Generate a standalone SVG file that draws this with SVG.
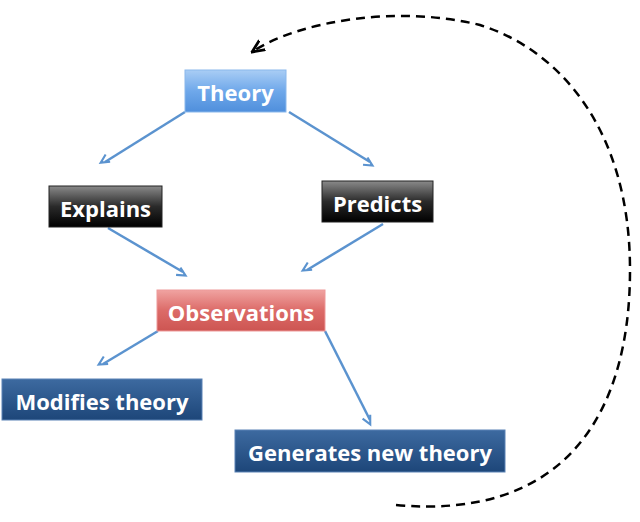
<svg xmlns="http://www.w3.org/2000/svg" width="640" height="522" viewBox="0 0 640 522">
<style>
text{font-family:"Open Sans","Liberation Sans",sans-serif;font-weight:bold;font-size:22px;fill:#fff;text-anchor:middle;dominant-baseline:central}
.c{stroke:#5b93cf;stroke-width:2.5;fill:none;marker-end:url(#a)}
</style>
<defs>
<marker id="a" viewBox="0 0 10 10" refX="9" refY="5" markerWidth="5" markerHeight="5" orient="auto" markerUnits="userSpaceOnUse" overflow="visible"><path d="M0,0 L10,5 L0,10" fill="none" stroke="#5b93cf" stroke-width="2.5" transform="scale(1.7)"/></marker>
<marker id="d" viewBox="0 0 10 10" refX="9" refY="5" markerWidth="14" markerHeight="14" orient="auto" markerUnits="userSpaceOnUse"><path d="M0,1 L9,5 L0,9" fill="none" stroke="#000" stroke-width="2"/></marker>
<linearGradient id="gb" x1="0" y1="0" x2="0" y2="1"><stop offset="0" stop-color="#a9cdf5"/><stop offset="0.5" stop-color="#6fa8ea"/><stop offset="1" stop-color="#4f8fdc"/></linearGradient>
<linearGradient id="gk" x1="0" y1="0" x2="0" y2="1"><stop offset="0" stop-color="#8a8a8a"/><stop offset="0.5" stop-color="#2a2a2a"/><stop offset="1" stop-color="#000"/></linearGradient>
<linearGradient id="gr" x1="0" y1="0" x2="0" y2="1"><stop offset="0" stop-color="#f0a3a1"/><stop offset="0.5" stop-color="#dc6b68"/><stop offset="1" stop-color="#cd5552"/></linearGradient>
<linearGradient id="gn" x1="0" y1="0" x2="0" y2="1"><stop offset="0" stop-color="#3d6aa0"/><stop offset="1" stop-color="#1d4679"/></linearGradient>
</defs>
<g id="connectors">
<path class="c" d="M185,112 L105,162"/>
<path class="c" d="M289,112 L370,162"/>
<path class="c" d="M108,228 L183,272"/>
<path class="c" d="M383,224 L307,270"/>
<path class="c" d="M158,331 L103,364"/>
<path class="c" d="M325,331 L370,420"/>
<path d="M396,505 C560,520 630,420 630,270 C630,130 560,50 480,25 C400,5 300,20 252,52" fill="none" stroke="#000" stroke-width="2.5" stroke-dasharray="9,6" marker-end="url(#d)"/>
</g>
<g id="theory"><rect x="185" y="70" width="101" height="42" fill="url(#gb)" stroke="#8ab8ec"/><text x="235.5" y="92">Theory</text></g>
<g id="explains"><rect x="49" y="186" width="113" height="41" fill="url(#gk)" stroke="#222"/><text x="105.5" y="208">Explains</text></g>
<g id="predicts"><rect x="322" y="181" width="111" height="41" fill="url(#gk)" stroke="#222"/><text x="377.5" y="203">Predicts</text></g>
<g id="observations"><rect x="157" y="290" width="168" height="41" fill="url(#gr)" stroke="#e99"/><text x="241" y="312">Observations</text></g>
<g id="modifies"><rect x="2" y="379" width="200" height="41" fill="url(#gn)" stroke="#5a82b5"/><text x="102" y="401">Modifies theory</text></g>
<g id="generates"><rect x="235" y="430" width="270" height="42" fill="url(#gn)" stroke="#5a82b5"/><text x="370" y="452">Generates new theory</text></g>
</svg>
